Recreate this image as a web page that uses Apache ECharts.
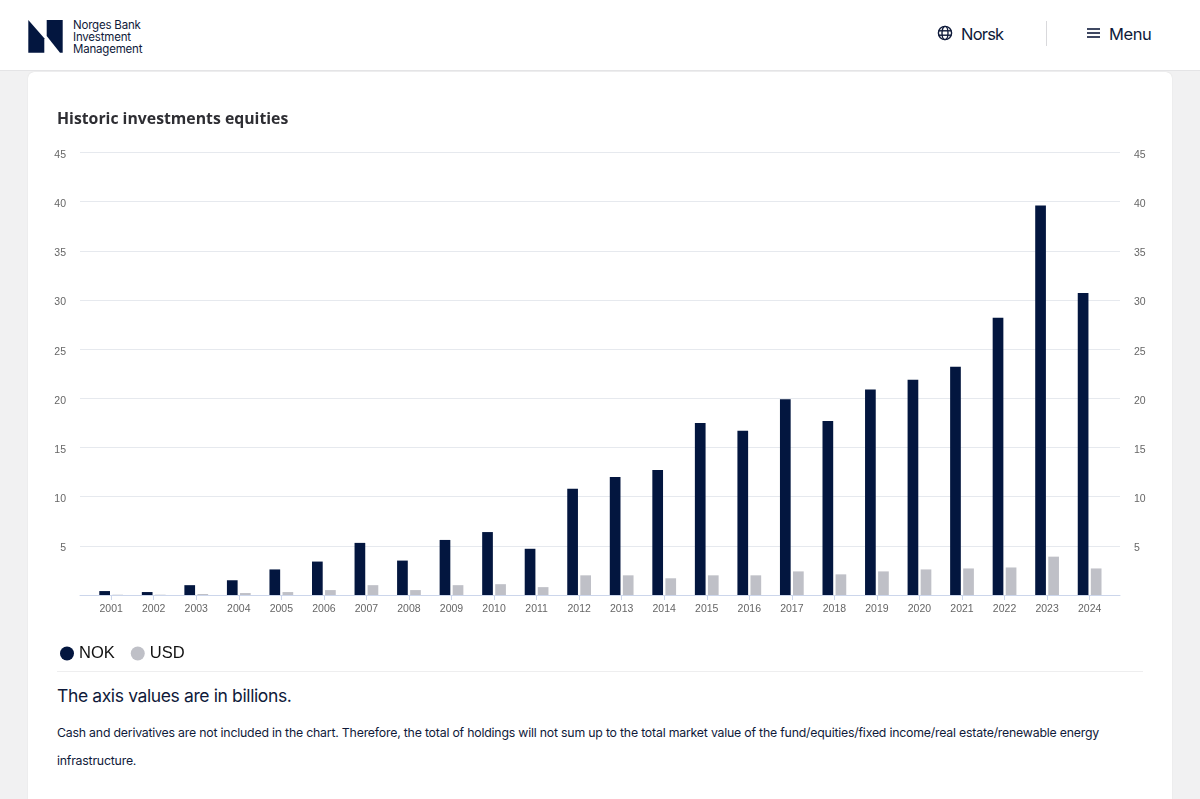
<!DOCTYPE html>
<html>
<head>
<meta charset="utf-8">
<title>Historic investments equities</title>
<script src="https://cdn.jsdelivr.net/npm/echarts@6/dist/echarts.min.js"></script>
<style>
    html, body { margin: 0; padding: 0; width: 1200px; height: 799px; overflow: hidden; background: #f1f1f2; font-family: Inter, sans-serif; color: #0f1a3a; }
    #header { position: absolute; left: 0; top: 0; width: 1200px; height: 70px; background: #fff; border-bottom: 1px solid #e4e4e6; }
    #card { position: absolute; left: 28px; top: 72px; width: 1144px; height: 740px; background: #fff; border-radius: 6px; box-shadow: 0 0 1px #ccc; }
    #chart { position: absolute; left: 0; top: 0; width: 1200px; height: 799px; }
    .t { position: absolute; white-space: nowrap; }
    #brand { left: 73px; top: 19px; font-size: 11.5px; line-height: 12.2px; letter-spacing: -0.2px; }
    #norsk { left: 961px; top: 24px; font-size: 16.5px; line-height: 20px; letter-spacing: -0.8px; }
    #menu { left: 1109px; top: 24px; font-size: 16.5px; line-height: 20px; letter-spacing: -0.4px; }
    #divider { position: absolute; left: 1046px; top: 21px; width: 1px; height: 25px; background: #d9d9dc; }
    #rule { position: absolute; left: 57px; top: 671px; width: 1086px; height: 1px; background: #eeeeef; }
    #axisnote { left: 57px; top: 685px; font-size: 17.5px; line-height: 22px; letter-spacing: -0.38px; }
    #note { left: 57px; top: 719px; width: 1086px; white-space: normal; font-size: 12.3px; line-height: 28px; letter-spacing: -0.2px; }
</style>
</head>
<body>
<div id="header"></div>
<div id="card"></div>
<svg style="position:absolute;left:0;top:0" width="200" height="70">
    <polygon points="28.3,20 44.3,38.3 44.3,52.7 28.3,52.7" fill="#03163f"/>
    <polygon points="46.7,20 62.7,20 62.7,52.7 60,52.7 46.7,36" fill="#03163f"/>
</svg>
<div id="brand" class="t">Norges Bank<br>Investment<br>Management</div>
<svg style="position:absolute;left:936px;top:24px" width="18" height="18" fill="none" stroke="#0f1a3a" stroke-width="1.4">
    <circle cx="9" cy="9" r="6.6"/>
    <ellipse cx="9" cy="9" rx="3" ry="6.6"/>
    <line x1="2.6" y1="6.8" x2="15.4" y2="6.8"/>
    <line x1="2.6" y1="11.2" x2="15.4" y2="11.2"/>
</svg>
<div id="norsk" class="t">Norsk</div>
<div id="divider"></div>
<svg style="position:absolute;left:1086px;top:26px" width="16" height="14" stroke="#0f1a3a" stroke-width="1.6">
    <line x1="1" y1="3" x2="14" y2="3"/>
    <line x1="1" y1="7" x2="14" y2="7"/>
    <line x1="1" y1="11" x2="14" y2="11"/>
</svg>
<div id="menu" class="t">Menu</div>
<div id="rule"></div>
<div id="axisnote" class="t">The axis values are in billions.</div>
<div id="note" class="t">Cash and derivatives are not included in the chart. Therefore, the total of holdings will not sum up to the total market value of the fund/equities/fixed income/real estate/renewable energy infrastructure.</div>
<div id="chart"></div>

<script>
var years = ['2001', '2002', '2003', '2004', '2005', '2006', '2007', '2008', '2009', '2010', '2011', '2012',
    '2013', '2014', '2015', '2016', '2017', '2018', '2019', '2020', '2021', '2022', '2023', '2024'];
var nokValues = [0.4, 0.3, 1.0, 1.5, 2.6, 3.4, 5.3, 3.5, 5.6, 6.4, 4.7, 10.8,
    12.0, 12.7, 17.5, 16.7, 19.9, 17.7, 20.9, 21.9, 23.2, 28.2, 39.6, 30.7];
var usdValues = [0.03, 0.03, 0.1, 0.2, 0.3, 0.5, 1.0, 0.5, 1.0, 1.1, 0.8, 2.0,
    2.0, 1.7, 2.0, 2.0, 2.4, 2.1, 2.4, 2.6, 2.7, 2.8, 3.9, 2.7];

var labelColor = '#666666';
var tickFormatter = function (value) {
    return value === 0 ? '' : String(value); // 0 is not labelled in the original
};

var myChart = echarts.init(document.getElementById('chart'), null, {renderer: 'canvas'});
myChart.setOption({
    animation: false,
    backgroundColor: 'transparent',
    title: {
        text: 'Historic investments equities',
        left: 57,
        top: 111,
        padding: 0,
        textStyle: {fontFamily: 'Open Sans', fontSize: 15.8, fontWeight: 'bold', color: '#2e2e33'}
    },
    legend: {
        left: 60,
        top: 645,
        padding: 0,
        icon: 'circle',
        itemWidth: 14,
        itemHeight: 14,
        itemGap: 16,
        selectedMode: false,
        textStyle: {fontFamily: 'Liberation Sans', fontSize: 16.5, color: '#111'},
        data: ['NOK', 'USD']
    },
    // grid 0 carries the gridlines and value labels, grid 1 the narrower band of the bars
    grid: [
        {left: 80, right: 80, top: 152.5, bottom: 204},
        {left: 89.9, width: 1021, top: 152.5, bottom: 204}
    ],
    xAxis: [
        {
            gridIndex: 0,
            type: 'category',
            data: [''],
            axisLine: {show: true, lineStyle: {color: '#ccd6eb', width: 1}},
            axisTick: {show: false},
            axisLabel: {show: false}
        },
        {
            gridIndex: 1,
            type: 'category',
            data: years,
            axisLine: {show: false},
            axisTick: {show: true, alignWithLabel: true, length: 5, lineStyle: {color: '#ccd6eb'}},
            axisLabel: {interval: 0, margin: 9, fontFamily: 'Liberation Sans', fontSize: 10.5, color: labelColor}
        }
    ],
    yAxis: [
        {
            gridIndex: 0,
            type: 'value',
            position: 'left',
            min: 0,
            max: 45,
            interval: 5,
            splitLine: {show: true, lineStyle: {color: '#e6e9ee', width: 1}},
            axisLine: {show: false},
            axisTick: {show: false},
            axisLabel: {margin: 14, verticalAlign: 'top', lineHeight: 5, fontFamily: 'Liberation Sans', fontSize: 10.5, color: labelColor, formatter: tickFormatter}
        },
        {
            gridIndex: 0,
            type: 'value',
            position: 'right',
            min: 0,
            max: 45,
            interval: 5,
            splitLine: {show: false},
            axisLine: {show: false},
            axisTick: {show: false},
            axisLabel: {margin: 14, verticalAlign: 'top', lineHeight: 5, fontFamily: 'Liberation Sans', fontSize: 10.5, color: labelColor, formatter: tickFormatter}
        },
        {
            gridIndex: 1,
            type: 'value',
            min: 0,
            max: 45,
            interval: 5,
            show: false
        }
    ],
    series: [
        {
            name: 'NOK',
            type: 'bar',
            xAxisIndex: 1,
            yAxisIndex: 2,
            barWidth: 10.7,
            barGap: '22%',
            itemStyle: {color: '#03163f'},
            data: nokValues
        },
        {
            name: 'USD',
            type: 'bar',
            xAxisIndex: 1,
            yAxisIndex: 2,
            barWidth: 10.7,
            itemStyle: {color: '#bfc0c7'},
            data: usdValues
        }
    ]
});
</script>
</body>
</html>
